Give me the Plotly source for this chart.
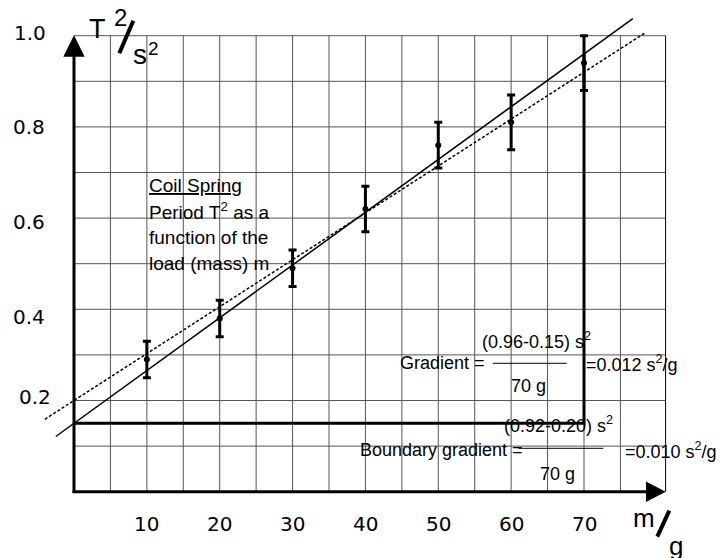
import plotly.graph_objects as go

# Measured load (g) and squared period (s^2) with their uncertainties
mass_g = [10, 20, 30, 40, 50, 60, 70]
t_squared = [0.29, 0.38, 0.49, 0.62, 0.76, 0.81, 0.94]
t_squared_err = [0.04, 0.04, 0.04, 0.05, 0.05, 0.06, 0.06]

# Straight lines: T^2 at m = 0 g and at m = 70 g
best_fit = [0.15, 0.96]
boundary_fit = [0.20, 0.92]
fit_span_g = 70
best_fit_m = [-2.5, 76.7]
boundary_fit_m = [-4.0, 78.3]

# Axis labelling and graph-paper grid
x_tick_vals = [10, 20, 30, 40, 50, 60, 70]
x_tick_text = ["10", "20", "30", "40", "50", "60", "70"]
y_tick_vals = [1.0, 0.8, 0.6, 0.4, 0.2]
y_tick_text = ["1.0", "0.8", "0.6", "0.4", "0.2"]
grid_m = [5, 10, 15, 20, 25, 30, 35, 40, 45, 50, 55, 60, 65, 70, 75]
grid_t2 = [0.1, 0.2, 0.3, 0.4, 0.5, 0.6, 0.7, 0.8, 0.9, 1.0]

W, H = 720, 558
X_RANGE = [-10.157, 88.667]
Y_RANGE = [-0.14539, 1.07829]
X_END = 81.2     # right edge of the grid paper (g)
Y_TOP = 1.0

# label offsets (px) relative to their tick value
y_label_shift = [2.7, -0.1, -3.9, -7.7, 3.5]
y_label_x = [30, 29, 29, 29, 34.5]

FONT = "Liberation Sans, Arial, sans-serif"
TICK_FONT = "DejaVu Sans, sans-serif"


def px(x):
    return x / W


def py(y):
    return 1 - y / H


fig = go.Figure()

shapes = []
# grid paper
for m in grid_m:
    shapes.append(dict(type="line", xref="x", yref="y", x0=m, x1=m, y0=0, y1=Y_TOP,
                       line=dict(color="#555555", width=1), layer="below"))
for t in grid_t2:
    shapes.append(dict(type="line", xref="x", yref="y", x0=0, x1=X_END, y0=t, y1=t,
                       line=dict(color="#555555", width=1), layer="below"))
shapes.append(dict(type="line", xref="x", yref="y", x0=X_END, x1=X_END, y0=0, y1=Y_TOP,
                   line=dict(color="black", width=1), layer="below"))

# axes with arrow heads
shapes.append(dict(type="line", xref="x", yref="y", x0=0, x1=0, y0=-0.003, y1=0.97,
                   line=dict(color="black", width=3)))
shapes.append(dict(type="line", xref="x", yref="y", x0=-0.2, x1=X_END - 2, y0=0, y1=0,
                   line=dict(color="black", width=3)))
shapes.append(dict(type="path", xref="paper", yref="paper",
                   path=f"M {px(63.3)},{py(56.7)} L {px(74)},{py(35.2)} L {px(84.7)},{py(56.7)} Z",
                   fillcolor="black", line=dict(color="black", width=0)))
shapes.append(dict(type="path", xref="paper", yref="paper",
                   path=f"M {px(646)},{py(481.5)} L {px(665.7)},{py(491.7)} L {px(646)},{py(501.9)} Z",
                   fillcolor="black", line=dict(color="black", width=0)))

# slashes of the unit labels
shapes.append(dict(type="line", xref="paper", yref="paper", x0=px(119.3), y0=py(53.3),
                   x1=px(133.3), y1=py(20.7), line=dict(color="black", width=4)))
shapes.append(dict(type="line", xref="paper", yref="paper", x0=px(657.3), y0=py(536.7),
                   x1=px(669.3), y1=py(510.7), line=dict(color="black", width=4)))

# fraction bars
shapes.append(dict(type="line", xref="paper", yref="paper", x0=px(492.7), x1=px(566.7),
                   y0=py(363.3), y1=py(363.3), line=dict(color="black", width=1)))
shapes.append(dict(type="line", xref="paper", yref="paper", x0=px(518.3), x1=px(603.3),
                   y0=py(448.3), y1=py(448.3), line=dict(color="black", width=1)))

# best line and boundary line
best_slope = (best_fit[1] - best_fit[0]) / fit_span_g
boundary_slope = (boundary_fit[1] - boundary_fit[0]) / fit_span_g
fig.add_trace(go.Scatter(
    x=best_fit_m, y=[best_fit[0] + best_slope * m for m in best_fit_m],
    mode="lines", line=dict(color="black", width=1.5), hoverinfo="skip"))
fig.add_trace(go.Scatter(
    x=boundary_fit_m, y=[boundary_fit[0] + boundary_slope * m for m in boundary_fit_m],
    mode="lines", line=dict(color="black", width=1.5, dash="3px,2px"), hoverinfo="skip"))

# gradient triangle of the best line
fig.add_trace(go.Scatter(
    x=[0, fit_span_g, fit_span_g], y=[best_fit[0], best_fit[0], best_fit[1]],
    mode="lines", line=dict(color="black", width=3), hoverinfo="skip"))

# measurements
fig.add_trace(go.Scatter(
    x=mass_g, y=t_squared, mode="markers",
    marker=dict(color="black", size=6),
    error_y=dict(type="data", array=t_squared_err, color="black", thickness=3, width=4)))

annotations = []


def text(t, x, y, size, family=FONT, xanchor="left"):
    annotations.append(dict(text=t, xref="paper", yref="paper", x=px(x), y=py(y),
                            xanchor=xanchor, yanchor="middle", showarrow=False,
                            font=dict(size=size, family=family, color="black")))


for v, lab in zip(x_tick_vals, x_tick_text):
    annotations.append(dict(text=lab, xref="x", yref="paper", x=v, y=py(524),
                            xanchor="center", yanchor="middle", showarrow=False,
                            font=dict(size=20, family=TICK_FONT, color="black")))
for v, lab, sh, lx in zip(y_tick_vals, y_tick_text, y_label_shift, y_label_x):
    annotations.append(dict(text=lab, xref="paper", yref="y", x=px(lx), y=v, yshift=sh,
                            xanchor="center", yanchor="middle", showarrow=False,
                            font=dict(size=20, family=TICK_FONT, color="black")))

# axis quantity labels
text("T", 87, 29.3, 27)
text("2", 120.8, 18, 24, xanchor="center")
text("s", 139.5, 55, 28, xanchor="center")
text("2", 153, 48.3, 19, xanchor="center")
text("m", 631, 518, 26)
text("g", 666.7, 546, 26)

# caption
text("<u>Coil Spring</u>", 147, 185, 19)
text("Period T<sup>2</sup> as a", 147, 211, 19)
text("function of the", 147, 237.5, 19)
text("load (mass) m", 147, 263.5, 19)

# gradient calculations
text("(0.96-0.15) s<sup>2</sup>", 480, 340.5, 18)
text("Gradient =", 397.5, 363.3, 18)
text("=0.012 s<sup>2</sup>/g", 584, 363.3, 18)
text("70 g", 509, 386, 18)
text("(0.92-0.20) s<sup>2</sup>", 502, 424.5, 18)
text("Boundary gradient =", 357.5, 450.3, 18)
text("=0.010 s<sup>2</sup>/g", 622.5, 450.3, 18)
text("70 g", 537.5, 473.5, 18)

fig.update_layout(
    width=W, height=H, margin=dict(l=0, r=0, t=0, b=0, pad=0),
    paper_bgcolor="white", plot_bgcolor="white", showlegend=False,
    xaxis=dict(range=X_RANGE, visible=False, fixedrange=True),
    yaxis=dict(range=Y_RANGE, visible=False, fixedrange=True),
    shapes=shapes, annotations=annotations,
)

fig.write_html("out.html")
